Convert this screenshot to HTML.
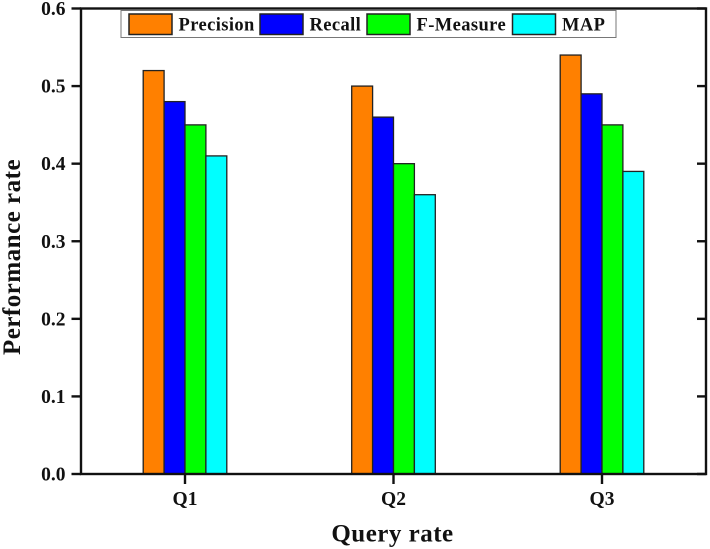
<!DOCTYPE html>
<html>
<head>
<meta charset="utf-8">
<title>Performance rate chart</title>
<style>
html,body{margin:0;padding:0;background:#fff;width:710px;height:549px;overflow:hidden}
svg{display:block;font-family:"Liberation Serif",serif;font-weight:bold;fill:#111}
</style>
</head>
<body>
<svg id="chart" width="710" height="549" viewBox="0 0 710 549" xmlns="http://www.w3.org/2000/svg"></svg>
<script>
const categories = ["Q1", "Q2", "Q3"];
const seriesNames = ["Precision", "Recall", "F-Measure", "MAP"];
const precision = [0.52, 0.50, 0.54];
const recall = [0.48, 0.46, 0.49];
const fMeasure = [0.45, 0.40, 0.45];
const map = [0.41, 0.36, 0.39];
const yTicks = ["0.0", "0.1", "0.2", "0.3", "0.4", "0.5", "0.6"];
const seriesValues = [precision, recall, fMeasure, map];
const seriesColors = ["#ff8000", "#0000ff", "#00ff00", "#00ffff"];

const svg = document.getElementById('chart');
const NS = 'http://www.w3.org/2000/svg';
const left = 81, right = 706, top_ = 8.5, bottom = 474;
const yMax = 0.6;
const yScale = v => bottom - (v / yMax) * (bottom - top_);
const xScale = i => 185 + i * 208.5;
const barW = 20.9;

function make(tag, attrs, parent) {
  const el = document.createElementNS(NS, tag);
  for (const k in attrs) el.setAttribute(k, attrs[k]);
  (parent || svg).appendChild(el);
  return el;
}

// bars
seriesValues.forEach((vals, s) => {
  vals.forEach((v, i) => {
    const x = xScale(i) + (s - seriesValues.length / 2) * barW;
    const bar = make('rect', {x: x, y: yScale(v), width: barW, height: bottom - yScale(v), fill: seriesColors[s], stroke: '#222', 'stroke-width': 1.3});
    
    
  });
});

// plot frame
const frame = make('rect', {x: left, y: top_, width: right - left, height: bottom - top_, fill: 'none', stroke: '#111', 'stroke-width': 2.4});



// y ticks
yTicks.forEach(t => {
  const y = yScale(parseFloat(t));
  const tick = make('line', {x1: 71.5, x2: left, y1: y, y2: y, stroke: '#111', 'stroke-width': 2.4});
  
  
  const tickR = make('line', {x1: 697, x2: right, y1: y, y2: y, stroke: '#111', 'stroke-width': 2.4});
  
  
  const label = make('text', {x: 65.5, y: y + 6.5, 'text-anchor': 'end', 'font-size': 19.5, 'letter-spacing': 0});
  label.textContent = t;
  
  
});

// x ticks
categories.forEach((c, i) => {
  const x = xScale(i);
  const tick = make('line', {x1: x, x2: x, y1: bottom, y2: 484, stroke: '#111', 'stroke-width': 2.4});
  
  
  const label = make('text', {x: x, y: 505, 'text-anchor': 'middle', 'font-size': 19.5});
  label.textContent = c;
  
  
});

// axis titles
const xTitle = make('text', {x: 392.5, y: 541.5, 'text-anchor': 'middle', 'font-size': 25, 'letter-spacing': 0.5});
xTitle.textContent = 'Query rate';



const yTitle = make('text', {x: 0, y: 0, 'text-anchor': 'middle', 'font-size': 25, 'letter-spacing': 0.5, transform: 'translate(20,257) rotate(-90)'});
yTitle.textContent = 'Performance rate';



// legend
const legend = make('g', {});


const legendBox = make('rect', {x: 121, y: 10.5, width: 495, height: 27, fill: '#fff', stroke: '#777', 'stroke-width': 1}, legend);


const swatchX = [129, 260, 367, 512.5];
seriesNames.forEach((n, s) => {
  const sw = make('rect', {x: swatchX[s], y: 14, width: 43, height: 20.5, fill: seriesColors[s], stroke: '#222', 'stroke-width': 1.5}, legend);
  
  
  const t = make('text', {x: swatchX[s] + 49.5, y: 30.5, 'font-size': 18.5, 'letter-spacing': 0.4}, legend);
  t.textContent = n;
  
  
});
</script>
</body>
</html>
